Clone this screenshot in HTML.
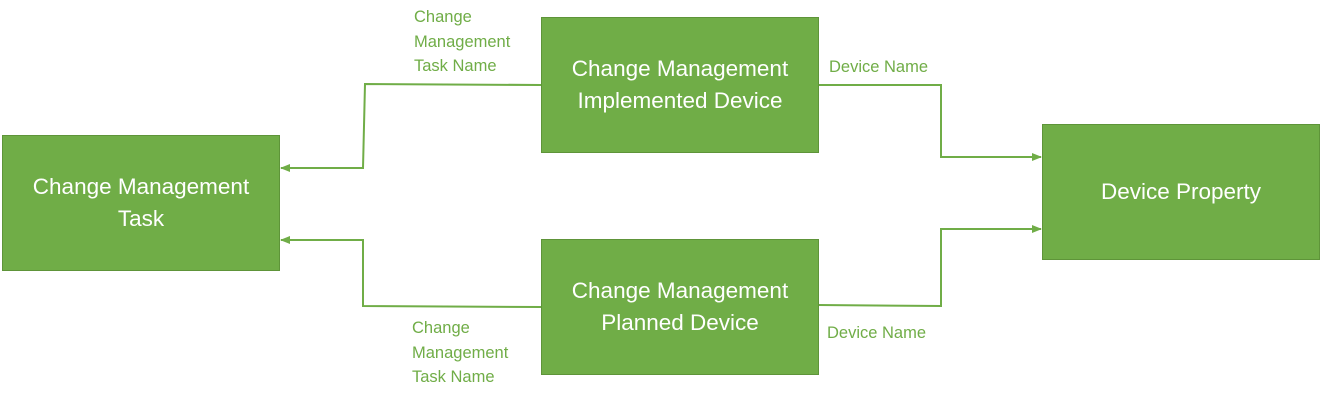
<!DOCTYPE html>
<html><head><style>
body{margin:0;width:1326px;height:400px;background:#fff;position:relative;overflow:hidden;font-family:"Liberation Sans",sans-serif}
.b{position:absolute;background:#70AD47;border:1px solid #5E9439;box-sizing:border-box;color:#fff;font-size:22.5px;line-height:32px;display:flex;align-items:center;justify-content:center;text-align:center}
.l{position:absolute;color:#70AD47;font-size:16.5px;line-height:24.5px}
</style></head><body>
<svg width="1326" height="400" style="position:absolute;left:0;top:0">
<defs><marker id="a" markerWidth="10" markerHeight="8" refX="9" refY="4" orient="auto" markerUnits="userSpaceOnUse"><path d="M0,0 L10,4 L0,8Z" fill="#70AD47"/></marker></defs>
<g fill="none" stroke="#70AD47" stroke-width="2">
<path d="M541,85 L365,84 L363,168 L281,168" marker-end="url(#a)"/>
<path d="M541,307 L363,306 L363,240 L281,240" marker-end="url(#a)"/>
<path d="M818,85 L941,85 L941,157 L1041,157" marker-end="url(#a)"/>
<path d="M818,305 L941,306 L941,229 L1041,229" marker-end="url(#a)"/>
</g></svg>
<div class="b" style="left:2px;top:135px;width:278px;height:136px">Change Management<br>Task</div>
<div class="b" style="left:541px;top:17px;width:278px;height:136px">Change Management<br>Implemented Device</div>
<div class="b" style="left:541px;top:239px;width:278px;height:136px">Change Management<br>Planned Device</div>
<div class="b" style="left:1042px;top:124px;width:278px;height:136px">Device Property</div>
<div class="l" style="left:414px;top:5px">Change<br>Management<br>Task Name</div>
<div class="l" style="left:412px;top:316px">Change<br>Management<br>Task Name</div>
<div class="l" style="left:829px;top:55px">Device Name</div>
<div class="l" style="left:827px;top:321px">Device Name</div>
</body></html>
